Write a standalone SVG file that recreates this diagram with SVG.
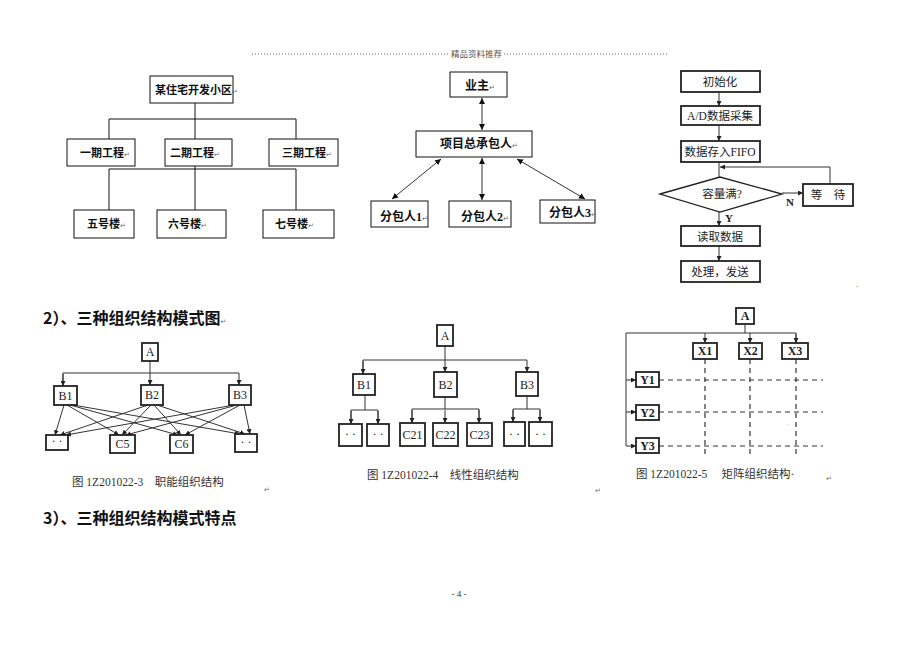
<svg xmlns="http://www.w3.org/2000/svg" width="920" height="651" viewBox="0 0 920 651">
<defs>
<style>
.bx{fill:#fff;stroke:#111;stroke-width:1}
.bx2{fill:#fff;stroke:#222;stroke-width:1.8}
.ln{fill:none;stroke:#111;stroke-width:1}
.ln2{fill:none;stroke:#333;stroke-width:1}
.dash{fill:none;stroke:#333;stroke-width:1.2;stroke-dasharray:5,4}
.cn{font-family:"Noto Sans CJK SC",sans-serif;font-weight:bold;font-size:11px;fill:#111}
.cm{font-family:"Liberation Serif","Noto Sans CJK SC",serif;font-weight:bold;font-size:12px;fill:#111}
.fc{font-family:"Liberation Serif","Noto Sans CJK SC",serif;font-size:11.5px;fill:#222;text-anchor:middle}
.lb{font-family:"Liberation Serif",serif;font-size:12px;fill:#222;text-anchor:middle}
.cap{font-family:"Liberation Serif","Noto Sans CJK SC",serif;font-size:11.5px;fill:#333}
.hd{font-family:"Noto Sans CJK SC",sans-serif;font-weight:bold;font-size:16px;fill:#111}
.rt{font-family:"DejaVu Sans",sans-serif;font-size:7px;fill:#666;font-weight:normal}
</style>
<marker id="ah" viewBox="0 0 10 10" refX="10" refY="5" markerWidth="6" markerHeight="6" markerUnits="userSpaceOnUse" orient="auto-start-reverse"><path d="M0,0 L10,5 L0,10 z" fill="#111"/></marker>
<marker id="as" viewBox="0 0 10 10" refX="10" refY="5" markerWidth="5" markerHeight="5" markerUnits="userSpaceOnUse" orient="auto-start-reverse"><path d="M0,0 L10,5 L0,10 z" fill="#222"/></marker>
</defs>
<rect width="920" height="651" fill="#fff"/>

<!-- header -->
<g id="header">
<line x1="252" y1="54" x2="449" y2="54" stroke="#666" stroke-width="1" stroke-dasharray="1,2"/>
<text x="451" y="57" font-family="Noto Sans CJK SC,sans-serif" font-size="8.5" fill="#555">精品资料推荐</text>
<line x1="504" y1="54" x2="668" y2="54" stroke="#666" stroke-width="1" stroke-dasharray="1,2"/>
</g>

<!-- connectors -->
<g id="connectors">
<!-- top-left tree -->
<path class="ln" d="M195,103 V139 M109,139 V119 H296 V139"/>
<path class="ln" d="M195,166 V210 M109,210 V169 H296 V210"/>
<!-- top-middle -->
<line class="ln2" x1="482" y1="98" x2="482" y2="130" marker-start="url(#ah)" marker-end="url(#ah)"/>
<line class="ln2" x1="441" y1="159" x2="392" y2="199" marker-start="url(#ah)" marker-end="url(#ah)"/>
<line class="ln2" x1="482" y1="158" x2="482" y2="200" marker-start="url(#ah)" marker-end="url(#ah)"/>
<line class="ln2" x1="517" y1="159" x2="585" y2="199" marker-start="url(#ah)" marker-end="url(#ah)"/>
<!-- flowchart -->
<line class="ln2" x1="719" y1="92" x2="719" y2="106" marker-end="url(#as)"/>
<line class="ln2" x1="719" y1="125" x2="719" y2="141" marker-end="url(#as)"/>
<line class="ln2" x1="719" y1="162" x2="719" y2="177"/>
<path class="ln2" d="M830,184 V167 H720" marker-end="url(#as)"/>
<line class="ln2" x1="782" y1="193" x2="803" y2="193" marker-end="url(#as)"/>
<line class="ln2" x1="719" y1="212" x2="719" y2="226" marker-end="url(#as)"/>
<line class="ln2" x1="719" y1="246" x2="719" y2="261" marker-end="url(#as)"/>
<!-- bottom-left functional -->
<path class="ln2" d="M150,361 V385" marker-end="url(#as)"/>
<path class="ln2" d="M63,386 V373 H239 V385" marker-end="url(#as)"/>
<line class="ln2" x1="63" y1="374" x2="63" y2="386" marker-end="url(#as)"/>
<g class="ln2">
<line x1="64" y1="405" x2="55" y2="435" marker-end="url(#as)"/>
<line x1="67" y1="405" x2="119" y2="435" marker-end="url(#as)"/>
<line x1="70" y1="405" x2="178" y2="435" marker-end="url(#as)"/>
<line x1="73" y1="405" x2="240" y2="434" marker-end="url(#as)"/>
<line x1="148" y1="405" x2="60" y2="435" marker-end="url(#as)"/>
<line x1="151" y1="405" x2="122" y2="435" marker-end="url(#as)"/>
<line x1="154" y1="405" x2="181" y2="435" marker-end="url(#as)"/>
<line x1="157" y1="405" x2="245" y2="434" marker-end="url(#as)"/>
<line x1="234" y1="405" x2="66" y2="435" marker-end="url(#as)"/>
<line x1="237" y1="405" x2="126" y2="435" marker-end="url(#as)"/>
<line x1="240" y1="405" x2="185" y2="435" marker-end="url(#as)"/>
<line x1="244" y1="405" x2="250" y2="434" marker-end="url(#as)"/>
</g>
<!-- bottom-middle line -->
<path class="ln2" d="M445,346 V372" marker-end="url(#as)"/>
<path class="ln2" d="M363,374 V360 H527 V372" marker-end="url(#as)"/>
<line class="ln2" x1="363" y1="361" x2="363" y2="374" marker-end="url(#as)"/>
<path class="ln2" d="M365,395 V410 M351,423 V410 H378 V423"/>
<line class="ln2" x1="351" y1="411" x2="351" y2="424" marker-end="url(#as)"/>
<line class="ln2" x1="378" y1="411" x2="378" y2="424" marker-end="url(#as)"/>
<path class="ln2" d="M445,397 V409 M412,423 V409 H479 V423"/>
<line class="ln2" x1="412" y1="410" x2="412" y2="423" marker-end="url(#as)"/>
<line class="ln2" x1="445" y1="410" x2="445" y2="423" marker-end="url(#as)"/>
<line class="ln2" x1="479" y1="410" x2="479" y2="423" marker-end="url(#as)"/>
<path class="ln2" d="M527,396 V409 M513,422 V409 H540 V422"/>
<line class="ln2" x1="513" y1="410" x2="513" y2="422" marker-end="url(#as)"/>
<line class="ln2" x1="540" y1="410" x2="540" y2="422" marker-end="url(#as)"/>
<!-- bottom-right matrix -->
<path class="ln2" d="M745,324 V333 M626,446 V333 H796 V343"/>
<line class="ln2" x1="705" y1="333" x2="705" y2="343" marker-end="url(#as)"/>
<line class="ln2" x1="750" y1="333" x2="750" y2="343" marker-end="url(#as)"/>
<line class="ln2" x1="796" y1="334" x2="796" y2="343" marker-end="url(#as)"/>
<line class="ln2" x1="626" y1="380" x2="636" y2="380" marker-end="url(#as)"/>
<line class="ln2" x1="626" y1="412" x2="636" y2="412" marker-end="url(#as)"/>
<line class="ln2" x1="626" y1="446" x2="636" y2="446" marker-end="url(#as)"/>
<line class="dash" x1="659" y1="380" x2="823" y2="380"/>
<line class="dash" x1="659" y1="412" x2="823" y2="412"/>
<line class="dash" x1="659" y1="446" x2="823" y2="446"/>
<line class="dash" x1="705" y1="359" x2="705" y2="457"/>
<line class="dash" x1="750" y1="359" x2="750" y2="457"/>
<line class="dash" x1="796" y1="359" x2="796" y2="457"/>
</g>

<!-- top-left tree nodes -->
<g id="tl-root"><rect class="bx" x="150" y="76" width="83" height="27"/><text class="cn" x="155" y="94">某住宅开发小区<tspan class="rt">↵</tspan></text></g>
<g id="tl-p1"><rect class="bx" x="67" y="139" width="68" height="27"/><text class="cn" x="80" y="157">一期工程<tspan class="rt">↵</tspan></text></g>
<g id="tl-p2"><rect class="bx" x="165" y="139" width="67" height="27"/><text class="cn" x="170" y="157">二期工程<tspan class="rt">↵</tspan></text></g>
<g id="tl-p3"><rect class="bx" x="269" y="139" width="69" height="27"/><text class="cn" x="282" y="157">三期工程<tspan class="rt">↵</tspan></text></g>
<g id="tl-b5"><rect class="bx" x="74" y="210" width="60" height="28"/><text class="cn" x="87" y="228">五号楼<tspan class="rt">↵</tspan></text></g>
<g id="tl-b6"><rect class="bx" x="157" y="210" width="69" height="28"/><text class="cn" x="168" y="228">六号楼<tspan class="rt">↵</tspan></text></g>
<g id="tl-b7"><rect class="bx" x="263" y="210" width="71" height="28"/><text class="cn" x="275" y="228">七号楼<tspan class="rt">↵</tspan></text></g>

<!-- top-middle nodes -->
<g id="tm-owner"><rect class="bx" x="450" y="72" width="57" height="25"/><text class="cm" x="465" y="90">业主<tspan class="rt">↵</tspan></text></g>
<g id="tm-gc"><rect class="bx" x="416" y="131" width="116" height="26"/><text class="cm" x="440" y="148">项目总承包人<tspan class="rt">↵</tspan></text></g>
<g id="tm-s1"><rect class="bx" x="371" y="201" width="57" height="26"/><text class="cm" x="380" y="221">分包人1<tspan class="rt">↵</tspan></text></g>
<g id="tm-s2"><rect class="bx" x="449" y="201" width="62" height="26"/><text class="cm" x="461" y="221">分包人2<tspan class="rt">↵</tspan></text></g>
<g id="tm-s3"><rect class="bx" x="540" y="200" width="55" height="23"/><text class="cm" x="549" y="217">分包人3<tspan class="rt">↵</tspan></text></g>

<!-- flowchart nodes -->
<g id="fc-init"><rect class="bx2" x="681" y="71" width="79" height="21" stroke-width="1.3"/><text class="fc" x="720" y="86">初始化</text></g>
<g id="fc-ad"><rect class="bx2" x="681" y="106" width="79" height="19" stroke-width="1.3"/><text class="fc" x="720" y="120">A/D数据采集</text></g>
<g id="fc-fifo"><rect class="bx2" x="681" y="141" width="79" height="21" stroke-width="1.3"/><text class="fc" x="720" y="156">数据存入FIFO</text></g>
<g id="fc-full"><polygon points="660,194 720,177 782,194 720,212" fill="#fff" stroke="#222" stroke-width="1.3"/><text class="fc" x="722" y="198">容量满?</text></g>
<g id="fc-wait"><rect class="bx2" x="803" y="184" width="50" height="22" stroke-width="1.3"/><text class="fc" x="828" y="199">等　待</text></g>
<g id="fc-read"><rect class="bx2" x="681" y="226" width="79" height="20" stroke-width="1.3"/><text class="fc" x="720" y="241">读取数据</text></g>
<g id="fc-proc"><rect class="bx2" x="681" y="261" width="79" height="21" stroke-width="1.3"/><text class="fc" x="720" y="276">处理，发送</text></g>
<text x="790" y="206" font-family="Liberation Serif,serif" font-weight="bold" font-size="11" fill="#222" text-anchor="middle">N</text>
<text x="729" y="222" font-family="Liberation Serif,serif" font-weight="bold" font-size="11" fill="#222" text-anchor="middle">Y</text>
<text x="857" y="287" font-family="Liberation Sans,sans-serif" font-size="8" fill="#444" text-anchor="middle">.</text>

<!-- headings -->
<text class="hd" x="43" y="324">2）、三种组织结构模式图<tspan class="rt">↵</tspan></text>
<text class="hd" x="43" y="524">3）、三种组织结构模式特点</text>

<!-- bottom-left functional -->
<g id="f-A"><rect class="bx2" x="142" y="343" width="16" height="18"/><text class="lb" x="150" y="356">A</text></g>
<g id="f-B1"><rect class="bx2" x="54" y="386" width="23" height="19"/><text class="lb" x="65.5" y="400">B1</text></g>
<g id="f-B2"><rect class="bx2" x="141" y="385" width="22" height="20"/><text class="lb" x="152" y="399">B2</text></g>
<g id="f-B3"><rect class="bx2" x="229" y="385" width="22" height="20"/><text class="lb" x="240" y="399">B3</text></g>
<g id="f-d1"><rect class="bx2" x="46" y="435" width="22" height="15"/><text class="lb" x="57" y="445">· ·</text></g>
<g id="f-C5"><rect class="bx2" x="110" y="435" width="25" height="18"/><text class="lb" x="122.5" y="448">C5</text></g>
<g id="f-C6"><rect class="bx2" x="170" y="435" width="23" height="18"/><text class="lb" x="181.5" y="448">C6</text></g>
<g id="f-d2"><rect class="bx2" x="235" y="434" width="22" height="18"/><text class="lb" x="246" y="446">· ·</text></g>
<text class="cap" x="72" y="486">图 1Z201022-3　职能组织结构</text>
<text class="rt" x="264" y="492">↵</text>

<!-- bottom-middle line -->
<g id="l-A"><rect class="bx2" x="437" y="325" width="16" height="21"/><text class="lb" x="445" y="340">A</text></g>
<g id="l-B1"><rect class="bx2" x="353" y="374" width="22" height="21"/><text class="lb" x="364" y="389">B1</text></g>
<g id="l-B2"><rect class="bx2" x="434" y="372" width="23" height="25"/><text class="lb" x="445.5" y="389">B2</text></g>
<g id="l-B3"><rect class="bx2" x="516" y="372" width="22" height="24"/><text class="lb" x="527" y="389">B3</text></g>
<g id="l-d1"><rect class="bx2" x="339" y="424" width="23" height="22"/><text class="lb" x="350.5" y="438">· ·</text></g>
<g id="l-d2"><rect class="bx2" x="367" y="424" width="22" height="22"/><text class="lb" x="378" y="438">· ·</text></g>
<g id="l-C21"><rect class="bx2" x="400" y="423" width="25" height="23"/><text class="lb" x="412.5" y="439" font-size="13">C21</text></g>
<g id="l-C22"><rect class="bx2" x="433" y="423" width="25" height="23"/><text class="lb" x="445.5" y="439" font-size="13">C22</text></g>
<g id="l-C23"><rect class="bx2" x="467" y="423" width="25" height="23"/><text class="lb" x="479.5" y="439" font-size="13">C23</text></g>
<g id="l-d3"><rect class="bx2" x="504" y="422" width="21" height="24"/><text class="lb" x="514.5" y="438">· ·</text></g>
<g id="l-d4"><rect class="bx2" x="529" y="422" width="23" height="24"/><text class="lb" x="540.5" y="438">· ·</text></g>
<text class="cap" x="367" y="479" font-size="12.5">图 1Z201022-4　线性组织结构</text>
<text class="rt" x="595" y="493">↵</text>

<!-- bottom-right matrix -->
<g id="m-A"><rect class="bx2" x="736" y="308" width="18" height="16"/><text class="lb" x="745" y="320" font-weight="bold" font-size="11">A</text></g>
<g id="m-X1"><rect class="bx2" x="693" y="343" width="24" height="16"/><text class="lb" x="705" y="355" font-weight="bold" font-size="11">X1</text></g>
<g id="m-X2"><rect class="bx2" x="739" y="343" width="23" height="16"/><text class="lb" x="750.5" y="355" font-weight="bold" font-size="11">X2</text></g>
<g id="m-X3"><rect class="bx2" x="782" y="343" width="26" height="16"/><text class="lb" x="795" y="355" font-weight="bold" font-size="11">X3</text></g>
<g id="m-Y1"><rect class="bx2" x="636" y="372" width="23" height="15"/><text class="lb" x="647.5" y="383.5" font-weight="bold" font-size="11">Y1</text></g>
<g id="m-Y2"><rect class="bx2" x="636" y="405" width="23" height="15"/><text class="lb" x="647.5" y="416.5" font-weight="bold" font-size="11">Y2</text></g>
<g id="m-Y3"><rect class="bx2" x="636" y="438" width="23" height="15"/><text class="lb" x="647.5" y="449.5" font-weight="bold" font-size="11">Y3</text></g>
<text x="787" y="425" font-family="Liberation Sans,sans-serif" font-size="6" fill="#555">.</text>
<text class="cap" x="636" y="478" font-size="10.5" fill="#555">图 1Z201022-5　 矩阵组织结构·</text>
<text class="rt" x="826" y="481">↵</text>

<!-- page number -->
<text x="459" y="597" font-family="Liberation Serif,serif" font-size="9" fill="#333" text-anchor="middle">- 4 -</text>
</svg>
